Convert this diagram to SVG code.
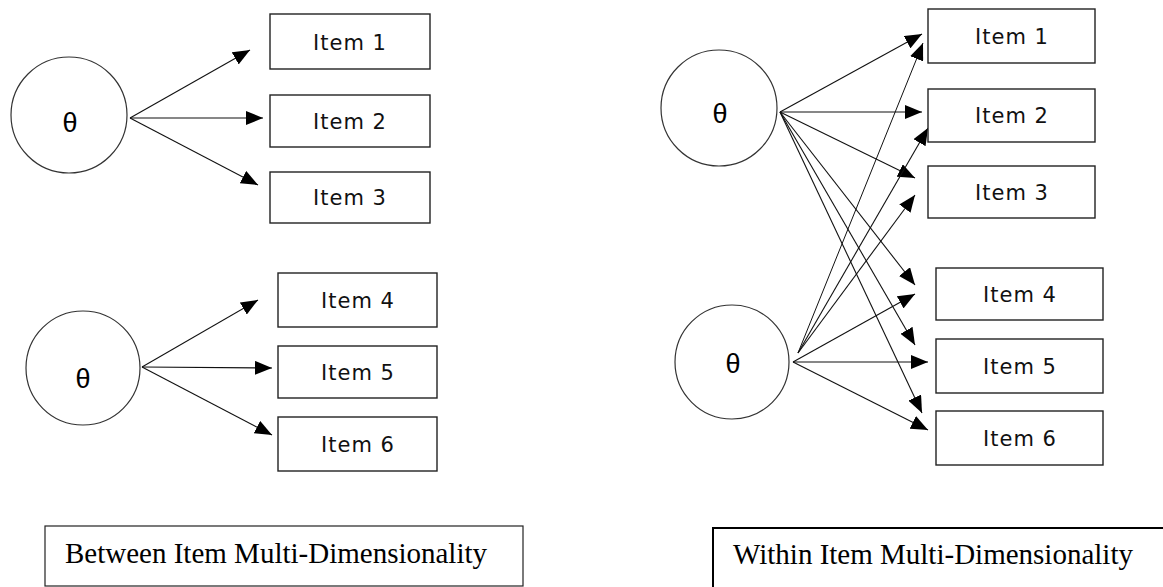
<svg xmlns="http://www.w3.org/2000/svg" width="1163" height="587" viewBox="0 0 1163 587">
<style>
.c{fill:#fff;stroke:#333;stroke-width:1.2}
.b{fill:#fff;stroke:#222;stroke-width:1.4}
.t{font-family:"DejaVu Sans",Verdana,sans-serif;font-size:21px;letter-spacing:1px;fill:#111;text-anchor:middle}
.th{font-family:"Liberation Sans",Arial,sans-serif;font-size:27px;fill:#000;text-anchor:middle}
.cap{font-family:"Liberation Serif","Times New Roman",serif;font-size:29px;fill:#000}
.e{stroke:#111;stroke-width:1.1;fill:none;marker-end:url(#ah)}
</style>
<defs>
<marker id="ah" markerUnits="userSpaceOnUse" markerWidth="17" markerHeight="14" refX="17" refY="7" orient="auto" viewBox="0 0 17 14">
<path d="M0,0 L17,7 L0,14 z" fill="#000"/>
</marker>
</defs>
<g id="connectors">
<line class="e" x1="130" y1="118" x2="250" y2="50"/>
<line class="e" x1="130" y1="118" x2="263" y2="118"/>
<line class="e" x1="130" y1="118" x2="258" y2="185"/>
<line class="e" x1="142" y1="367" x2="258" y2="300"/>
<line class="e" x1="142" y1="367" x2="272" y2="368"/>
<line class="e" x1="142" y1="367" x2="272" y2="435"/>
<line class="e" x1="780" y1="112" x2="922" y2="34"/>
<line class="e" x1="780" y1="112" x2="922" y2="112"/>
<line class="e" x1="780" y1="112" x2="915" y2="178"/>
<line class="e" x1="780" y1="112" x2="915" y2="285"/>
<line class="e" x1="780" y1="112" x2="915" y2="345"/>
<line class="e" x1="780" y1="112" x2="922" y2="413"/>
<line class="e" x1="798" y1="353" x2="923" y2="43" style="stroke-width:1"/>
<line class="e" x1="798" y1="353" x2="928" y2="128"/>
<line class="e" x1="798" y1="353" x2="915" y2="195"/>
<line class="e" x1="793" y1="362" x2="915" y2="294"/>
<line class="e" x1="793" y1="362" x2="928" y2="362"/>
<line class="e" x1="793" y1="362" x2="928" y2="430"/>
</g>
<g id="theta-a1"><circle class="c" cx="69" cy="115" r="58"/><text class="th" x="70" y="132">θ</text></g>
<g id="theta-a2"><circle class="c" cx="83" cy="368" r="57"/><text class="th" x="83" y="388">θ</text></g>
<g id="theta-b1"><circle class="c" cx="719" cy="108" r="58"/><text class="th" x="720" y="123">θ</text></g>
<g id="theta-b2"><circle class="c" cx="732" cy="362" r="57"/><text class="th" x="733" y="373">θ</text></g>
<g id="a-item1"><rect class="b" x="270" y="14" width="160" height="55"/><text class="t" x="350" y="50">Item 1</text></g>
<g id="a-item2"><rect class="b" x="270" y="95" width="160" height="52"/><text class="t" x="350" y="129">Item 2</text></g>
<g id="a-item3"><rect class="b" x="270" y="172" width="160" height="51"/><text class="t" x="350" y="205">Item 3</text></g>
<g id="a-item4"><rect class="b" x="278" y="273" width="159" height="54"/><text class="t" x="358" y="308">Item 4</text></g>
<g id="a-item5"><rect class="b" x="278" y="346" width="159" height="52"/><text class="t" x="358" y="380">Item 5</text></g>
<g id="a-item6"><rect class="b" x="278" y="417" width="159" height="54"/><text class="t" x="358" y="452">Item 6</text></g>
<g id="b-item1"><rect class="b" x="928" y="9" width="167" height="54"/><text class="t" x="1012" y="44">Item 1</text></g>
<g id="b-item2"><rect class="b" x="928" y="89" width="167" height="53"/><text class="t" x="1012" y="123">Item 2</text></g>
<g id="b-item3"><rect class="b" x="928" y="166" width="167" height="52"/><text class="t" x="1012" y="200">Item 3</text></g>
<g id="b-item4"><rect class="b" x="936" y="268" width="167" height="52"/><text class="t" x="1020" y="302">Item 4</text></g>
<g id="b-item5"><rect class="b" x="936" y="339" width="167" height="54"/><text class="t" x="1020" y="374">Item 5</text></g>
<g id="b-item6"><rect class="b" x="936" y="411" width="167" height="54"/><text class="t" x="1020" y="446">Item 6</text></g>
<g id="caption-between"><rect x="45" y="526" width="478" height="60" fill="#fff" stroke="#222" stroke-width="1.2"/><text class="cap" x="65" y="563">Between Item Multi-Dimensionality</text></g>
<g id="caption-within"><rect x="713" y="528" width="470" height="70" fill="#fff" stroke="#000" stroke-width="2"/><text class="cap" x="733" y="564">Within Item Multi-Dimensionality</text></g>
</svg>
